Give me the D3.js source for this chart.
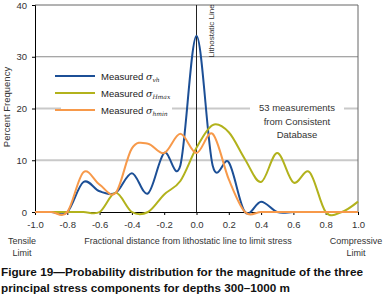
<!DOCTYPE html>
<html lang="en">
<head>
<meta charset="UTF-8">
<title>Probability distribution</title>
<script src="https://cdnjs.cloudflare.com/ajax/libs/d3/7.8.5/d3.min.js"></script>
<style>
  body { margin: 0; background: #fff; }
  text { font-family: "Liberation Sans", Arial, sans-serif; }
</style>
</head>
<body>
<div class="chart"></div>
<script>
    // fractional distance bins, -1.0 .. 1.0 in 0.1 steps
    const bins = [-1.0, -0.9, -0.8, -0.7, -0.6, -0.5, -0.4, -0.3, -0.2, -0.1, 0.0, 0.1, 0.2, 0.3, 0.4, 0.5, 0.6, 0.7, 0.8, 0.9, 1.0]
    const sigmaV    = [0, 0, 0, 5.8, 4.0, 3.7, 7.5, 3.6, 11.4, 9.0, 34.0, 9.0, 9.6, 0, 2.0, 0, 0, 0, 0, 0, 0]
    const sigmaHmax = [0, 0, 0, 0, 0, 3.7, 0, 0, 3.4, 6.0, 12.4, 16.8, 15.4, 10.2, 5.8, 11.4, 5.7, 7.7, 0, 0, 2.0]
    const sigmaHmin = [0, 0, 0, 7.7, 5.3, 3.7, 12.3, 13.2, 11.4, 15.1, 11.4, 15.1, 6.3, 0, 0, 0, 0, 0, 0, 0, 0]

    const xTicks = [-1.0, -0.8, -0.6, -0.4, -0.2, 0.0, 0.2, 0.4, 0.6, 0.8, 1.0]
    const yTicks = [0, 10, 20, 30, 40]

    const series = [
        { sub: 'vh', values: sigmaV, color: '#1c4f96' },
        { sub: 'Hmax', values: sigmaHmax, color: '#b2b21c' },
        { sub: 'hmin', values: sigmaHmin, color: '#f7994a' }
    ]

    const width = 383
    const height = 307
    const x = d3.scaleLinear().domain([-1, 1]).range([35, 358])
    const y = d3.scaleLinear().domain([0, 40]).range([212, 5])

    const svg = d3.select('.chart').append('svg')
        .attr('width', width)
        .attr('height', height)

    // grid lines
    svg.selectAll('.grid')
        .data([10, 20, 30])
        .enter().append('line')
        .attr('x1', x(-1)).attr('x2', x(1))
        .attr('y1', d => y(d)).attr('y2', d => y(d))
        .attr('stroke', d => d === 30 ? '#8a8a8a' : '#c9c9c9')
        .attr('stroke-width', d => d === 30 ? 1 : 2)

    // frame top / right
    svg.append('path')
        .attr('d', `M${x(-1)},${y(40)}H${x(1)}V${y(0)}`)
        .attr('fill', 'none')
        .attr('stroke', '#666')

    // lithostatic line
    svg.append('line')
        .attr('x1', x(0)).attr('x2', x(0))
        .attr('y1', y(40)).attr('y2', y(0))
        .attr('stroke', '#222')

    // axes
    const yAxis = svg.append('g')
        .attr('transform', `translate(${x(-1)},0)`)
        .call(d3.axisLeft(y).tickValues(yTicks).tickSize(3).tickPadding(5))
    const xAxis = svg.append('g')
        .attr('transform', `translate(0,${y(0)})`)
        .call(d3.axisBottom(x).tickValues(xTicks).tickSize(3).tickPadding(6)
            .tickFormat(d => d3.format('.1f')(d).replace('−', '-')))
    ;[xAxis, yAxis].forEach(a => {
        a.select('.domain').attr('stroke', '#000')
        a.selectAll('.tick line').attr('stroke', '#000')
        a.selectAll('.tick text')
            .attr('fill', '#333')
            .style('font-size', '9.5px')
            .style('font-family', '"Liberation Sans", Arial, sans-serif')
    })

    // curves
    const line = d3.line()
        .x((d, i) => x(bins[i]))
        .y(d => y(d))
        .curve(d3.curveCardinal.tension(0))

    svg.selectAll('.curve')
        .data(series)
        .enter().append('path')
        .attr('class', 'curve')
        .attr('d', d => line(d.values))
        .attr('fill', 'none')
        .attr('stroke', d => d.color)
        .attr('stroke-width', 2)

    // lithostatic label
    svg.append('rect')
        .attr('x', 206).attr('y', 8).attr('width', 12).attr('height', 46)
        .attr('fill', '#fff')
    svg.append('text')
        .attr('transform', `translate(214,31) rotate(-90)`)
        .attr('text-anchor', 'middle')
        .attr('fill', '#333')
        .style('font-size', '8px')
        .text('Lithostatic Line')

    // legend
    const legend = svg.append('g')
    legend.append('rect')
        .attr('x', 61).attr('y', 66).attr('width', 111).attr('height', 52)
        .attr('fill', '#fff')
    series.forEach((s, i) => {
        const ly = 76 + i * 17
        legend.append('line')
            .attr('x1', 55).attr('x2', 95)
            .attr('y1', ly).attr('y2', ly)
            .attr('stroke', s.color)
            .attr('stroke-width', 2)
        const t = legend.append('text')
            .attr('x', 101).attr('y', ly + 3.5)
            .attr('fill', '#222')
            .style('font-size', '9.5px')
        t.append('tspan').text('Measured ')
        t.append('tspan')
            .style('font-family', '"DejaVu Serif", serif')
            .style('font-style', 'italic')
            .text('σ')
        t.append('tspan')
            .attr('dy', 2.5)
            .style('font-family', '"DejaVu Serif", serif')
            .style('font-style', 'italic')
            .style('font-size', '6px')
            .text(s.sub)
    })

    // measurement note
    svg.append('rect')
        .attr('x', 250).attr('y', 100).attr('width', 94).attr('height', 40)
        .attr('fill', '#fff')
    svg.append('text')
        .attr('text-anchor', 'middle')
        .attr('fill', '#333')
        .style('font-size', '9.5px')
        .selectAll('tspan')
        .data(['53 measurements', 'from Consistent', 'Database'])
        .enter().append('tspan')
        .attr('x', 297)
        .attr('y', (d, i) => 111 + i * 13.5)
        .text(d => d)

    // axis titles
    svg.append('text')
        .attr('transform', `translate(10,107) rotate(-90)`)
        .attr('text-anchor', 'middle')
        .attr('fill', '#333')
        .style('font-size', '9.5px')
        .text('Percent Frequency')
    svg.append('text')
        .attr('x', 188).attr('y', 244)
        .attr('text-anchor', 'middle')
        .attr('fill', '#333')
        .style('font-size', '9px')
        .text('Fractional distance from lithostatic line to limit stress')
    const endLabels = [['Tensile', 'Limit', 22], ['Compressive', 'Limit', 356]]
    endLabels.forEach(l => {
        const t = svg.append('text')
            .attr('text-anchor', 'middle')
            .attr('fill', '#333')
            .style('font-size', '9px')
        t.append('tspan').attr('x', l[2]).attr('y', 244).text(l[0])
        t.append('tspan').attr('x', l[2]).attr('y', 256).text(l[1])
    })

    // caption
    const caption = svg.append('text')
        .attr('fill', '#111')
        .style('font-size', '10.5px')
        .style('font-weight', 'bold')
    caption.append('tspan').attr('x', 1).attr('y', 276)
        .attr('textLength', 362).attr('lengthAdjust', 'spacingAndGlyphs')
        .text('Figure 19—Probability distribution for the magnitude of the three')
    caption.append('tspan').attr('x', 1).attr('y', 292)
        .attr('textLength', 289).attr('lengthAdjust', 'spacingAndGlyphs')
        .text('principal stress components for depths 300–1000 m')
</script>
</body>
</html>
